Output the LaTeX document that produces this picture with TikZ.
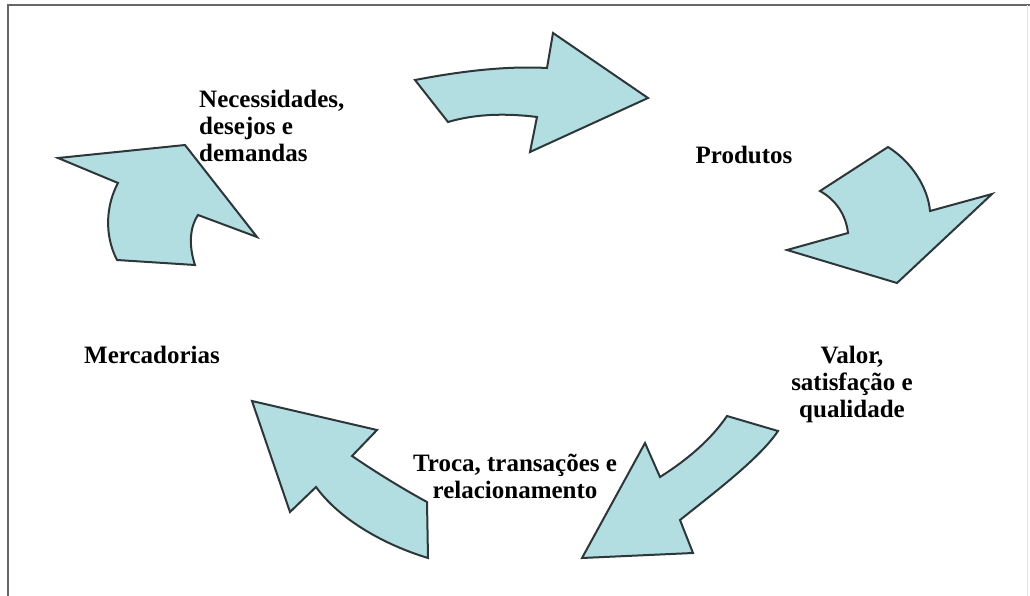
\documentclass[tikz,border=0pt]{standalone}
\usepackage{fontspec}
\setmainfont{Liberation Serif}
\definecolor{azulseta}{RGB}{178,221,225}
\definecolor{bordaseta}{RGB}{45,55,57}
\tikzset{
  seta/.style={fill=azulseta, draw=bordaseta, line width=2pt, line join=miter},
  rotulo/.style={font=\bfseries\fontsize{25}{27}\selectfont, inner sep=0pt}
}
\begin{document}
\begin{tikzpicture}[x=1pt,y=-1pt]
  \useasboundingbox (0,0) rectangle (1030,596);
  \draw[gray!80!black, line width=2.5pt] (8,596)--(8,5)--(1030,5);
  \draw[gray!20, line width=1pt] (1027,5)--(1027,596);
  % setas do ciclo
  \draw[seta] (415,80) .. controls (467,70) and (510,66) .. (547,68) -- (553,33) -- (648,98)
        -- (530,152) -- (537,117) .. controls (505,113) and (475,114) .. (448,122) -- cycle;
  \draw[seta] (820,191) -- (888,147) .. controls (912,162) and (928,188) .. (930,211)
        -- (992,194) -- (897,283) -- (787,250) -- (848,233)
        .. controls (846,215) and (836,200) .. (820,191) -- cycle;
  \draw[seta] (727,416) -- (778,431) .. controls (760,458) and (715,492) .. (680,520)
        -- (693,553) -- (582,558) -- (645,443) -- (660,477)
        .. controls (690,458) and (712,438) .. (727,416) -- cycle;
  \draw[seta] (252,401) -- (377,430) -- (352,456) .. controls (380,475) and (405,490) .. (427,502)
        -- (428,558) .. controls (385,545) and (340,520) .. (316,487) -- (290,512) -- cycle;
  \draw[seta] (58,158) -- (185,145) -- (257,237) -- (198,215)
        .. controls (188,230) and (190,250) .. (195,265) -- (117,260)
        .. controls (104,235) and (106,205) .. (118,183) -- cycle;
  % rotulos
  \node[rotulo, anchor=west, align=left] (necessidades) at (199,126)
        {Necessidades,\\desejos e\\demandas};
  \node[rotulo] (produtos) at (744,155) {Produtos};
  \node[rotulo, align=center] (valor) at (852,384) {Valor,\\satisfação e\\qualidade};
  \node[rotulo] (mercadorias) at (152,355) {Mercadorias};
  \node[rotulo, align=center] (troca) at (515,476) {Troca, transações e\\relacionamento};
\end{tikzpicture}
\end{document}
